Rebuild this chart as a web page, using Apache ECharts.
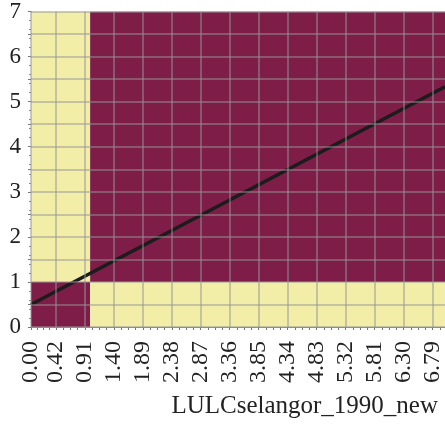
<!DOCTYPE html>
<html>
<head>
<meta charset="utf-8">
<style>
  html, body { margin: 0; padding: 0; background: #fff; }
  #chart { width: 445px; height: 425px; }
</style>
<script src="https://cdn.jsdelivr.net/npm/echarts@6/dist/echarts.min.js"></script>
</head>
<body>
<div id="chart"></div>
<script>
// Tick positions and labels along the x axis
const xTicks = [0.00, 0.42, 0.91, 1.40, 1.89, 2.38, 2.87, 3.36, 3.85, 4.34, 4.83, 5.32, 5.81, 6.30, 6.79];
// Horizontal grid positions (labels shown on whole numbers)
const yGrid = [0, 0.5, 1, 1.5, 2, 2.5, 3, 3.5, 4, 4.5, 5, 5.5, 6, 6.5, 7];
const yLabels = [0, 1, 2, 3, 4, 5, 6, 7];

// Class cells: [x0, x1, y0, y1, class]
const cells = [
  [0, 1, 0, 1, 1],
  [0, 1, 1, 7, 0],
  [1, 7, 0, 1, 0],
  [1, 7, 1, 7, 1]
];
const classColors = ['#f2eea8', '#7d1d48'];

// Fitted line end points
const fitLine = [[0, 0.5], [7, 5.33]];

const xName = 'LULCselangor_1990_new';

// minor tick marks: four per labelled interval
const xMinor = [];
for (let i = 0; i < xTicks.length; i++) {
  const a = xTicks[i];
  const b = i + 1 < xTicks.length ? xTicks[i + 1] : 7;
  const step = i + 1 < xTicks.length ? (b - a) / 4 : 0.1225;
  for (let k = 0; k < 4; k++) {
    const v = a + k * step;
    if (v <= 7) xMinor.push(+v.toFixed(4));
  }
}

const gridColor = 'rgba(150,150,150,0.65)';
const serif = '"Liberation Serif", "DejaVu Serif", serif';

const chart = echarts.init(document.getElementById('chart'));
chart.setOption({
  animation: false,
  title: {
    text: xName,
    right: 2,
    top: 389,
    textStyle: { fontFamily: serif, fontSize: 25, fontWeight: 'normal', color: '#222' }
  },
  grid: { left: 31, right: 0, top: 9, bottom: 98 },
  xAxis: {
    type: 'value',
    min: 0,
    max: 7,
    axisLine: { show: true, lineStyle: { color: '#888', width: 1 } },
    axisTick: { show: true, customValues: xMinor, length: 3, lineStyle: { color: '#777' } },
    splitLine: { show: false },
    axisLabel: {
      customValues: xTicks,
      rotate: 90,
      margin: 14,
      fontFamily: serif,
      fontSize: 24,
      color: '#222',
      formatter: v => v.toFixed(2)
    }
  },
  yAxis: {
    type: 'value',
    min: 0,
    max: 7,
    axisLine: { show: true, lineStyle: { color: '#888', width: 1 } },
    axisTick: { show: true, length: 3, customValues: yGrid, lineStyle: { color: '#777' } },
    minorTick: { show: true, splitNumber: 5, length: 2, lineStyle: { color: '#888' } },
    splitLine: { show: false },
    axisLabel: {
      customValues: yLabels,
      margin: 10,
      fontFamily: serif,
      fontSize: 23,
      color: '#222'
    }
  },
  series: [
    {
      type: 'custom',
      z: 1,
      clip: true,
      data: cells,
      renderItem: (params, api) => {
        const p0 = api.coord([api.value(0), api.value(3)]);
        const p1 = api.coord([api.value(1), api.value(2)]);
        return {
          type: 'rect',
          shape: { x: p0[0], y: p0[1], width: p1[0] - p0[0], height: p1[1] - p0[1] },
          style: { fill: classColors[api.value(4)] }
        };
      }
    },
    {
      type: 'line',
      z: 2,
      data: [],
      silent: true,
      markLine: {
        silent: true,
        symbol: 'none',
        label: { show: false },
        lineStyle: { color: gridColor, width: 1.5, type: 'solid' },
        data: xTicks.map(v => ({ xAxis: v })).concat(yGrid.map(v => ({ yAxis: v })))
      }
    },
    {
      type: 'line',
      z: 3,
      data: fitLine,
      showSymbol: false,
      lineStyle: { color: '#1c1c1c', width: 3.5 }
    }
  ]
});
</script>
</body>
</html>
